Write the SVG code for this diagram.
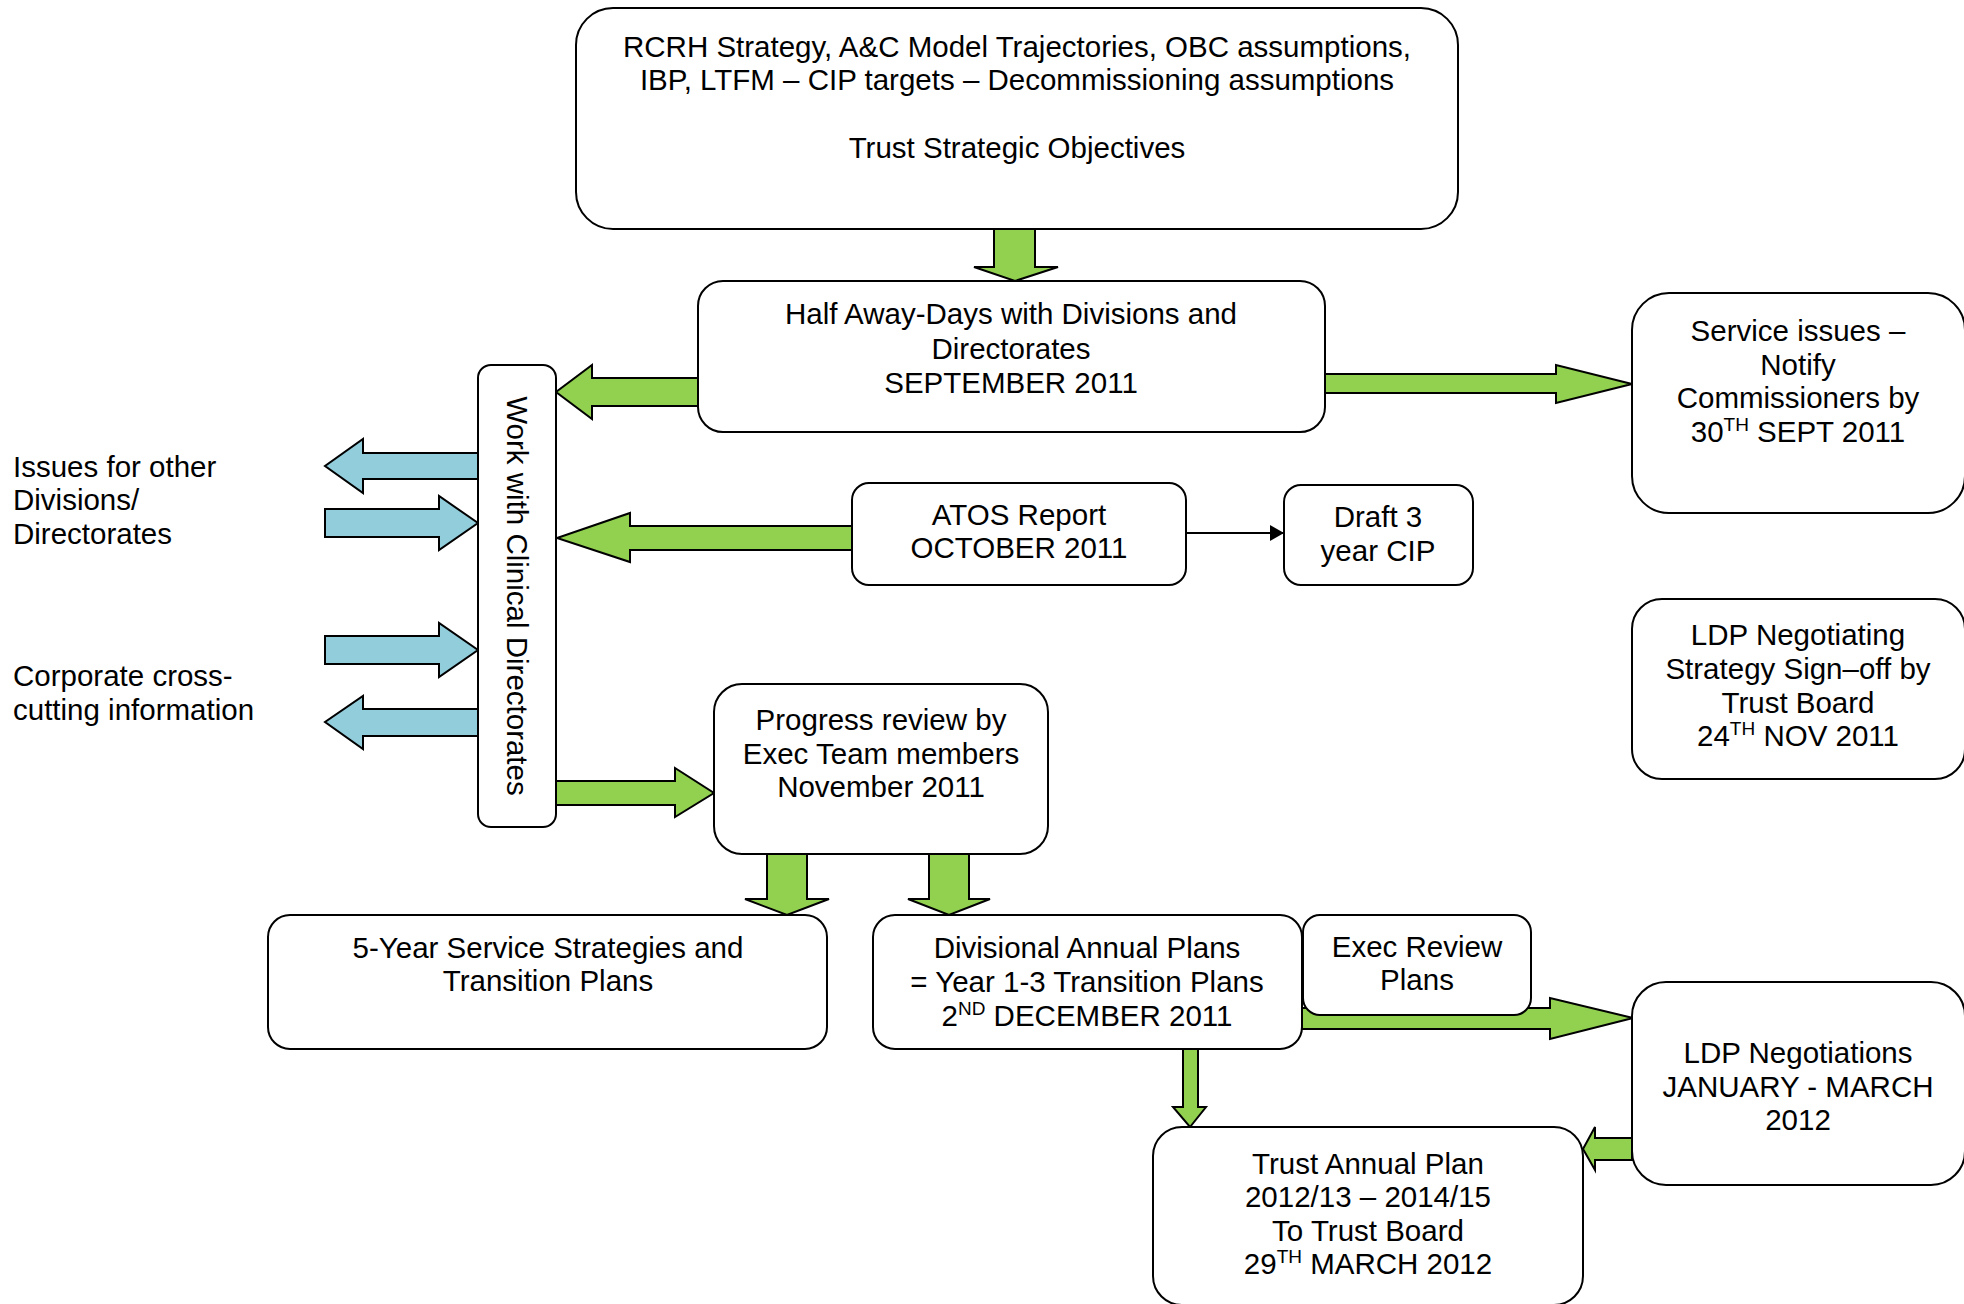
<svg xmlns="http://www.w3.org/2000/svg" width="1964" height="1304" viewBox="0 0 1964 1304">
  <style>
    .box { fill: #ffffff; stroke: #000000; stroke-width: 2; }
    .green { fill: #92D050; stroke: #000000; stroke-width: 2; stroke-linejoin: miter; }
    .blue { fill: #92CDDC; stroke: #000000; stroke-width: 2; stroke-linejoin: miter; }
    .thin { stroke: #000000; stroke-width: 2; fill: none; }
    text { font-family: "Liberation Sans", Arial, sans-serif; font-size: 29.5px; fill: #000000; }
    .c { text-anchor: middle; }
    .sup { font-size: 19px; }
  </style>
  <defs>
    <marker id="tri" markerWidth="14" markerHeight="16" refX="14" refY="8" orient="auto" markerUnits="userSpaceOnUse">
      <polygon points="0,0 14,8 0,16" fill="#000000"/>
    </marker>
  </defs>

  <rect width="1964" height="1304" fill="#ffffff"/>

  <!-- connectors -->
  <g id="connectors">
    <!-- strategy box down to away-days -->
    <polygon class="green" points="994,229 1035,229 1035,267 1058,267 1015,281 974,267 994,267"/>
    <!-- away-days to clinical directorates column -->
    <polygon class="green" points="698,378 592,378 592,365 556,392 592,419 592,406 698,406"/>
    <!-- away-days to service issues -->
    <polygon class="green" points="1324,374 1556,374 1556,365 1632,384 1556,403 1556,393 1324,393"/>
    <!-- ATOS to clinical directorates column -->
    <polygon class="green" points="852,526 630,526 630,513 557,538 630,562 630,550 852,550"/>
    <!-- column to progress review -->
    <polygon class="green" points="556,781 675,781 675,768 714,793 675,817 675,805 556,805"/>
    <!-- progress review down to 5-year strategies -->
    <polygon class="green" points="767,854 807,854 807,899 829,899 787,915 745,899 767,899"/>
    <!-- progress review down to divisional plans -->
    <polygon class="green" points="929,854 969,854 969,899 990,899 949,915 908,899 929,899"/>
    <!-- divisional plans to LDP negotiations -->
    <polygon class="green" points="1302,1008 1550,1008 1550,998 1633,1018 1550,1039 1550,1029 1302,1029"/>
    <!-- divisional plans down to trust annual plan -->
    <polygon class="green" points="1183,1049 1198,1049 1198,1107 1206,1107 1190,1127 1173,1107 1183,1107"/>
    <!-- LDP negotiations to trust annual plan -->
    <polygon class="green" points="1632,1138 1595,1138 1595,1127 1583,1149 1595,1170 1595,1160 1632,1160"/>

    <!-- exchange arrows beside the column -->
    <polygon class="blue" points="478,453 363,453 363,439 325,466 363,493 363,479 478,479"/>
    <polygon class="blue" points="325,509 439,509 439,496 478,523 439,550 439,537 325,537"/>
    <polygon class="blue" points="325,636 439,636 439,623 478,650 439,677 439,664 325,664"/>
    <polygon class="blue" points="478,709 363,709 363,696 325,722 363,749 363,736 478,736"/>

    <!-- ATOS to draft CIP -->
    <line class="thin" x1="1186" y1="533" x2="1284" y2="533" marker-end="url(#tri)"/>
  </g>

  <!-- nodes -->
  <g id="strategy">
    <rect class="box" x="576" y="8" width="882" height="221" rx="37" ry="37"/>
    <text class="c" x="1017" y="57">RCRH Strategy, A&amp;C Model Trajectories, OBC assumptions,</text>
    <text class="c" x="1017" y="90">IBP, LTFM – CIP targets – Decommissioning assumptions</text>
    <text class="c" x="1017" y="158">Trust Strategic Objectives</text>
  </g>

  <g id="away-days">
    <rect class="box" x="698" y="281" width="627" height="151" rx="25" ry="25"/>
    <text class="c" x="1011" y="324">Half Away-Days with Divisions and</text>
    <text class="c" x="1011" y="359">Directorates</text>
    <text class="c" x="1011" y="393">SEPTEMBER 2011</text>
  </g>

  <g id="service-issues">
    <rect class="box" x="1632" y="293" width="333" height="220" rx="37" ry="37"/>
    <text class="c" x="1798" y="341">Service issues –</text>
    <text class="c" x="1798" y="375">Notify</text>
    <text class="c" x="1798" y="408">Commissioners by</text>
    <text class="c" x="1798" y="442">30<tspan class="sup" dy="-11">TH</tspan><tspan dy="11"> SEPT 2011</tspan></text>
  </g>

  <g id="clinical-directorates">
    <rect class="box" x="478" y="365" width="78" height="462" rx="13" ry="13"/>
    <text class="c" transform="translate(507,596) rotate(90)" x="0" y="0">Work with Clinical Directorates</text>
  </g>

  <g id="atos">
    <rect class="box" x="852" y="483" width="334" height="102" rx="17" ry="17"/>
    <text class="c" x="1019" y="525">ATOS Report</text>
    <text class="c" x="1019" y="558">OCTOBER 2011</text>
  </g>

  <g id="draft-cip">
    <rect class="box" x="1284" y="485" width="189" height="100" rx="17" ry="17"/>
    <text class="c" x="1378" y="527">Draft 3</text>
    <text class="c" x="1378" y="561">year CIP</text>
  </g>

  <g id="ldp-strategy">
    <rect class="box" x="1632" y="599" width="333" height="180" rx="30" ry="30"/>
    <text class="c" x="1798" y="645">LDP Negotiating</text>
    <text class="c" x="1798" y="679">Strategy Sign–off by</text>
    <text class="c" x="1798" y="713">Trust Board</text>
    <text class="c" x="1798" y="746">24<tspan class="sup" dy="-11">TH</tspan><tspan dy="11"> NOV 2011</tspan></text>
  </g>

  <g id="issues-label">
    <text x="13" y="477">Issues for other</text>
    <text x="13" y="510">Divisions/</text>
    <text x="13" y="544">Directorates</text>
  </g>

  <g id="corporate-label">
    <text x="13" y="686">Corporate cross-</text>
    <text x="13" y="720">cutting information</text>
  </g>

  <g id="progress-review">
    <rect class="box" x="714" y="684" width="334" height="170" rx="28" ry="28"/>
    <text class="c" x="881" y="730">Progress review by</text>
    <text class="c" x="881" y="764">Exec Team members</text>
    <text class="c" x="881" y="797">November 2011</text>
  </g>

  <g id="service-strategies">
    <rect class="box" x="268" y="915" width="559" height="134" rx="22" ry="22"/>
    <text class="c" x="548" y="958">5-Year Service Strategies and</text>
    <text class="c" x="548" y="991">Transition Plans</text>
  </g>

  <g id="divisional-plans">
    <rect class="box" x="873" y="915" width="429" height="134" rx="22" ry="22"/>
    <text class="c" x="1087" y="958">Divisional Annual Plans</text>
    <text class="c" x="1087" y="992">= Year 1-3 Transition Plans</text>
    <text class="c" x="1087" y="1026">2<tspan class="sup" dy="-11">ND</tspan><tspan dy="11"> DECEMBER 2011</tspan></text>
  </g>

  <g id="exec-review">
    <rect class="box" x="1303" y="915" width="228" height="100" rx="17" ry="17"/>
    <text class="c" x="1417" y="957">Exec Review</text>
    <text class="c" x="1417" y="990">Plans</text>
  </g>

  <g id="ldp-negotiations">
    <rect class="box" x="1632" y="982" width="333" height="203" rx="34" ry="34"/>
    <text class="c" x="1798" y="1063">LDP Negotiations</text>
    <text class="c" x="1798" y="1097">JANUARY - MARCH</text>
    <text class="c" x="1798" y="1130">2012</text>
  </g>

  <g id="trust-annual-plan">
    <rect class="box" x="1153" y="1127" width="430" height="178" rx="29" ry="29"/>
    <text class="c" x="1368" y="1174">Trust Annual Plan</text>
    <text class="c" x="1368" y="1207">2012/13 – 2014/15</text>
    <text class="c" x="1368" y="1241">To Trust Board</text>
    <text class="c" x="1368" y="1274">29<tspan class="sup" dy="-11">TH</tspan><tspan dy="11"> MARCH 2012</tspan></text>
  </g>
</svg>
